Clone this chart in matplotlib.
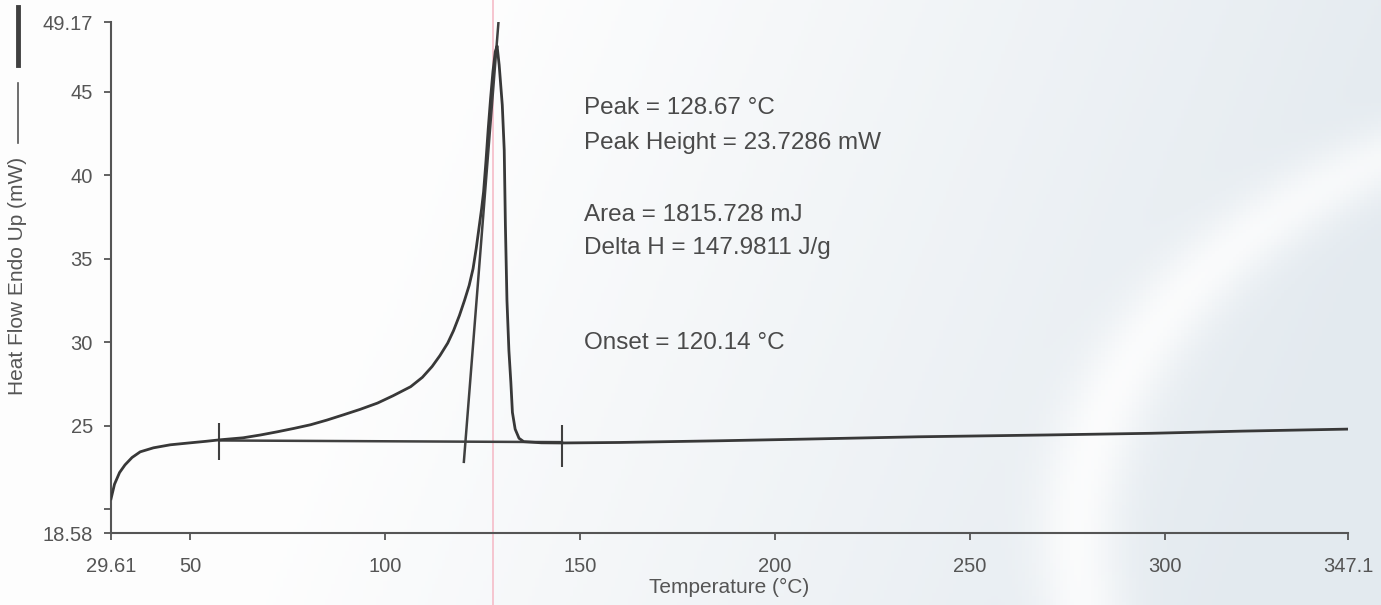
import numpy as np
import matplotlib.pyplot as plt
from matplotlib.lines import Line2D

plt.rcParams['font.family'] = ['Liberation Sans', 'DejaVu Sans']

# --- DSC-Messkurve ---
temperature = [29.61, 30.5, 31.8, 33.2, 35.0, 37.1, 40.5, 44.8, 50.0, 54.0,
               57.6, 63.5, 68.0, 72.3, 76.5, 80.8, 85.0, 89.3, 93.5, 98.0,
               102.0, 106.5, 109.5, 112.0, 114.0, 116.0, 117.5, 119.0, 120.3,
               121.5, 122.5, 123.3, 124.0, 124.7, 125.2, 125.8, 126.4, 127.0,
               127.6, 128.2, 128.67,
               129.2, 130.0, 130.5, 130.8, 131.2, 131.7, 132.2, 132.6, 133.3,
               134.3, 135.5, 140.0, 145.0, 160.0, 185.4, 207.5, 236.8, 270.0,
               296.7, 320.0, 347.0]
heat_flow = [20.63, 21.5, 22.2, 22.66, 23.1, 23.44, 23.68, 23.86, 23.98, 24.07,
             24.16, 24.28, 24.45, 24.64, 24.84, 25.06, 25.34, 25.66, 25.98, 26.36,
             26.8, 27.34, 27.9, 28.55, 29.2, 29.95, 30.7, 31.6, 32.5,
             33.4, 34.4, 35.6, 36.8, 38.0, 39.0, 40.8, 42.8, 44.6,
             46.2, 47.4, 47.73,
             46.6, 44.2, 41.5, 37.0, 32.5, 29.5, 27.6, 25.8, 24.8,
             24.25, 24.05, 23.98, 23.97, 24.0, 24.1, 24.2, 24.34, 24.45,
             24.55, 24.68, 24.8]

# --- Auswertung: Tangente, Basislinie, Grenzmarken ---
onset_t = [120.14, 129.0]
onset_hf = [22.84, 49.1]
baseline_t = [57.4, 145.3]
baseline_hf = [24.12, 24.02]
mark_t = [57.4, 145.3]
mark_lo = [22.96, 22.54]
mark_hi = [25.18, 25.06]
cursor_t = 127.6

results = ['Peak = 128.67 °C', 'Peak Height = 23.7286 mW',
           'Area = 1815.728 mJ', 'Delta H = 147.9811 J/g',
           'Onset = 120.14 °C']
result_y = [44.04, 41.95, 37.6, 35.66, 29.97]

x_ticks = [29.61, 50, 100, 150, 200, 250, 300, 347.0]
x_labels = ['29.61', '50', '100', '150', '200', '250', '300', '347.1']
y_ticks = [18.58, 20, 25, 30, 35, 40, 45, 49.17]
y_labels = ['18.58', '', '25', '30', '35', '40', '45', '49.17']

# ─── Figur ──────────────────────────────────────────────
fig = plt.figure(figsize=(13.81, 6.05), dpi=100)

# Hintergrund: heller Verlauf wie im Original-Screenshot
bg = fig.add_axes([0, 0, 1, 1], zorder=-5)
u, v = np.meshgrid(np.linspace(0, 1, 400), np.linspace(1, 0, 200))
t = np.clip((u - 0.35) * 1.4 + (1 - v) * 0.25, 0, 1) * 0.85
arc = np.exp(-((np.hypot((u - 1.25) * 1.6, (v - 0.1) * 1.0) - 0.75) / 0.05) ** 2)
t = np.clip(t - 0.6 * arc * (u > 0.55), 0, 1)
white = np.array([0.995, 0.995, 0.995])
blue = np.array([0.875, 0.905, 0.93])
img = white[None, None, :] * (1 - t[..., None]) + blue[None, None, :] * t[..., None]
bg.imshow(img, aspect='auto', extent=[0, 1, 0, 1])
bg.axis('off')

ax = fig.add_axes([0.0804, 0.119, 0.8957, 0.8446])
ax.patch.set_alpha(0)

ax.plot(temperature, heat_flow, color='#383838', lw=2.0, zorder=4)
ax.plot(onset_t, onset_hf, color='#404040', lw=1.8, zorder=3)
ax.plot(baseline_t, baseline_hf, color='#404040', lw=1.8, zorder=3)
ax.vlines(mark_t, mark_lo, mark_hi, color='#404040', lw=1.5, zorder=3)
ax.axvline(cursor_t, ymin=-0.141, ymax=1.043, color='#f5bcc8', lw=1.2,
           clip_on=False, zorder=1)

for txt, yy in zip(results, result_y):
    ax.text(151.0, yy, txt, fontsize=17.5, color='#4a4a4a', va='center', ha='left')

ax.set_xlim(29.61, 347.0)
ax.set_ylim(18.58, 49.17)
ax.set_xticks(x_ticks)
ax.set_xticklabels(x_labels)
ax.set_yticks(y_ticks)
ax.set_yticklabels(y_labels)

for s in ['top', 'right']:
    ax.spines[s].set_visible(False)
for s in ['left', 'bottom']:
    ax.spines[s].set_color('#555555')
    ax.spines[s].set_linewidth(1.5)
ax.tick_params(axis='both', colors='#555555', labelsize=14.5, length=5, width=1.3)
ax.tick_params(axis='y', pad=8)
ax.tick_params(axis='x', pad=12)

ax.set_xlabel('Temperature (°C)', fontsize=15, color='#555555', labelpad=2)
ax.set_ylabel('Heat Flow Endo Up (mW)', fontsize=15, color='#555555')
ax.yaxis.set_label_coords(-0.068, 0.503)

# Legendenstriche neben der y-Achsenbeschriftung
fig.add_artist(Line2D([18 / 1381, 18 / 1381], [1 - 143 / 605, 1 - 83 / 605],
                      color='#555555', lw=1.2))
fig.add_artist(Line2D([18 / 1381, 18 / 1381], [1 - 65 / 605, 1 - 7 / 605],
                      color='#404040', lw=3.5))

fig.savefig('out.png', dpi=100)
